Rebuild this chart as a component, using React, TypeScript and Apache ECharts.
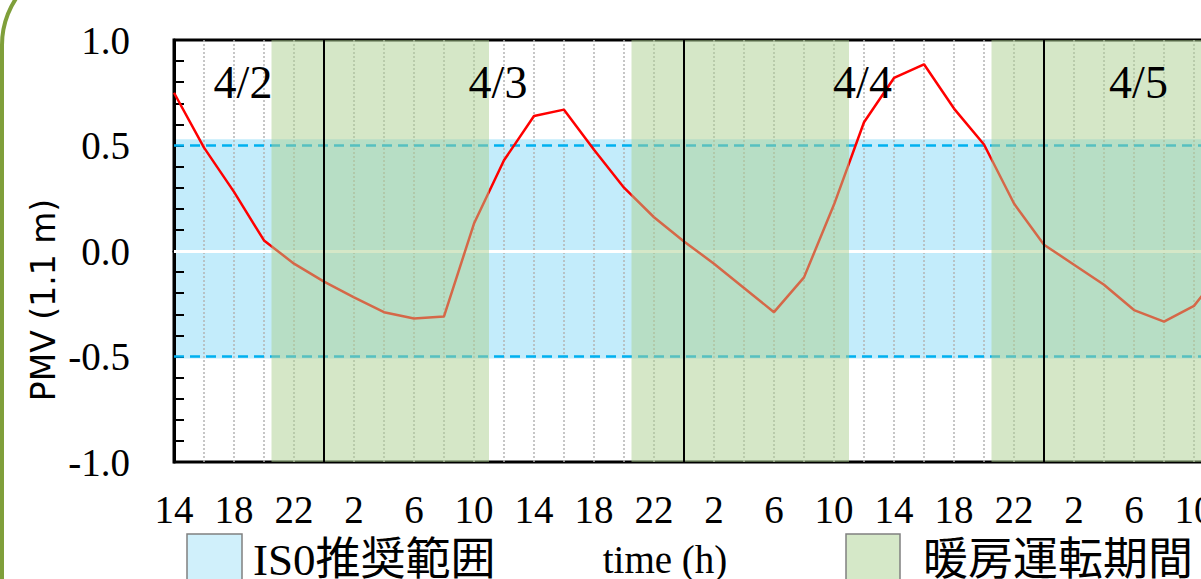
import { useEffect, useRef } from 'react';
import * as echarts from 'echarts';

// Clock hour at the left edge of the time axis (4/2 14:00)
const START_CLOCK = 14;

// Elapsed hours since 4/2 14:00, one reading every two hours
const elapsedHours = [
  0, 2, 4, 6, 8, 10, 12, 14, 16, 18, 20, 22, 24, 26, 28, 30, 32, 34,
  36, 38, 40, 42, 44, 46, 48, 50, 52, 54, 56, 58, 60, 62, 64, 66, 68, 70,
];

// PMV at 1.1 m height
const pmv = [
  0.75, 0.49, 0.28, 0.05, -0.06, -0.145, -0.22, -0.29, -0.32, -0.31, 0.13, 0.43,
  0.64, 0.67, 0.48, 0.3, 0.16, 0.045, -0.06, -0.175, -0.29, -0.125, 0.22, 0.61,
  0.82, 0.885, 0.675, 0.505, 0.225, 0.03, -0.065, -0.16, -0.28, -0.335, -0.26, -0.08,
];

// Heating operation periods [from, to] in elapsed hours
const heatingPeriods = [
  [6.5, 21],
  [30.5, 45],
  [54.5, 72],
];

// Day boundaries (midnight) in elapsed hours
const midnights = [10, 34, 58];

// Day captions and where they sit on the time axis
const dayLabels = ['4/2', '4/3', '4/4', '4/5'];
const dayLabelHours = [4.6, 21.6, 45.9, 64.3];
const dayLabelLevel = 0.8;

// ISO recommended comfort range (shaded band and its dashed limits)
const isoBand = [-0.51, 0.53];
const isoLimits = [-0.5, 0.5];

const SERIF = '"Liberation Serif", "Times New Roman", serif';
const SERIF_CJK = '"Liberation Serif", "Noto Sans CJK JP", serif';

export default function App() {
  const ref = useRef<HTMLDivElement>(null);

  useEffect(() => {
    if (!ref.current) return;
    const chart = echarts.init(ref.current, null, { renderer: 'svg' });
    const points = elapsedHours.map((h, i) => [h, pmv[i]]);
    const dotted = { color: '#b4b4b4', type: [2, 2] as number[], width: 1.5 };

    const staticGraphics: any[] = [
      {
        id: 'frame',
        type: 'rect',
        z: 10,
        silent: true,
        shape: { x: 2, y: -39, width: 1400, height: 700, r: 84 },
        style: { fill: 'none', stroke: '#7f9f3a', lineWidth: 4 },
      },
      {
        id: 'yname',
        type: 'text',
        z: 10,
        x: 43,
        y: 300,
        rotation: Math.PI / 2,
        style: {
          text: 'PMV (1.1 m)',
          font: '33px "DejaVu Sans", sans-serif',
          fill: '#000',
          textAlign: 'center',
          textVerticalAlign: 'middle',
        },
      },
      {
        id: 'isoBox',
        type: 'rect',
        z: 10,
        shape: { x: 187, y: 534, width: 55, height: 60 },
        style: { fill: '#d0f0fb', stroke: '#808080', lineWidth: 1.5 },
      },
      {
        id: 'isoText',
        type: 'text',
        z: 10,
        x: 253,
        y: 560,
        style: {
          text: 'IS0推奨範囲',
          font: `45px ${SERIF_CJK}`,
          fill: '#000',
          textAlign: 'left',
          textVerticalAlign: 'middle',
        },
      },
      {
        id: 'xname',
        type: 'text',
        z: 10,
        x: 665,
        y: 559,
        style: {
          text: 'time (h)',
          font: `39px ${SERIF}`,
          fill: '#000',
          textAlign: 'center',
          textVerticalAlign: 'middle',
        },
      },
      {
        id: 'heatBox',
        type: 'rect',
        z: 10,
        shape: { x: 846, y: 534, width: 54, height: 60 },
        style: { fill: '#d5e8c8', stroke: '#808080', lineWidth: 1.5 },
      },
      {
        id: 'heatText',
        type: 'text',
        z: 10,
        x: 923,
        y: 560,
        style: {
          text: '暖房運転期間',
          font: `45px ${SERIF_CJK}`,
          fill: '#000',
          textAlign: 'left',
          textVerticalAlign: 'middle',
        },
      },
    ];

    chart.setOption({
      animation: false,
      grid: {
        left: 174,
        top: 40,
        width: 1080,
        height: 422,
        show: true,
        borderColor: '#000',
        borderWidth: 3,
        backgroundColor: 'transparent',
        z: 0,
      },
      xAxis: {
        type: 'value',
        min: 0,
        max: 72,
        interval: 4,
        z: 2,
        axisLine: { show: true, lineStyle: { color: '#000', width: 3 } },
        axisTick: { show: false },
        axisLabel: {
          formatter: (v: number) => String((v + START_CLOCK) % 24),
          fontFamily: SERIF,
          fontSize: 39,
          color: '#000',
          margin: 28,
        },
        splitLine: { show: true, lineStyle: dotted },
        minorTick: { show: false, splitNumber: 2 },
        minorSplitLine: { show: true, lineStyle: dotted },
      },
      yAxis: {
        type: 'value',
        min: -1,
        max: 1,
        interval: 0.5,
        z: 2,
        axisLine: { show: true, lineStyle: { color: '#000', width: 3 } },
        axisTick: { show: true, inside: true, length: 10, lineStyle: { color: '#000', width: 2 } },
        minorTick: { show: true, splitNumber: 5, length: 10, lineStyle: { color: '#000', width: 2 } },
        splitLine: { show: false },
        axisLabel: {
          formatter: (v: number) => v.toFixed(1),
          fontFamily: SERIF,
          fontSize: 39,
          color: '#000',
          margin: 44,
        },
      },
      series: [
        {
          // ISO recommended range band
          type: 'line',
          data: points,
          symbol: 'none',
          silent: true,
          z: 1,
          lineStyle: { opacity: 0 },
          markArea: {
            silent: true,
            z: 1,
            itemStyle: { color: '#c3ecfb' },
            data: [[{ yAxis: isoBand[0] }, { yAxis: isoBand[1] }]],
          },
        },
        {
          // zero line and ISO limits
          type: 'line',
          data: points,
          symbol: 'none',
          silent: true,
          z: 3,
          lineStyle: { opacity: 0 },
          markLine: {
            silent: true,
            z: 3,
            symbol: ['none', 'none'],
            label: { show: false },
            data: [
              { yAxis: 0, lineStyle: { color: '#ffffff', width: 3, type: 'solid' } },
              ...isoLimits.map((v) => ({
                yAxis: v,
                lineStyle: { color: '#00b0f0', width: 2.5, type: [10, 6] },
              })),
            ],
          },
        },
        {
          name: 'PMV',
          type: 'line',
          data: points,
          symbol: 'none',
          z: 4,
          lineStyle: { color: '#ff0000', width: 2.5 },
        },
        {
          // heating operation periods (translucent overlay)
          type: 'line',
          data: points,
          symbol: 'none',
          silent: true,
          z: 5,
          lineStyle: { opacity: 0 },
          markArea: {
            silent: true,
            z: 5,
            itemStyle: { color: 'rgba(171,207,143,0.5)' },
            data: heatingPeriods.map(([a, b]) => [{ xAxis: a }, { xAxis: b }]),
          },
        },
        {
          // day boundaries
          type: 'line',
          data: points,
          symbol: 'none',
          silent: true,
          z: 6,
          lineStyle: { opacity: 0 },
          markLine: {
            silent: true,
            z: 6,
            symbol: ['none', 'none'],
            label: { show: false },
            lineStyle: { color: '#000', width: 2, type: 'solid' },
            data: midnights.map((h) => ({ xAxis: h })),
          },
        },
      ],
      graphic: staticGraphics,
    });

    // Day captions, placed through the axes' own scales
    const captions = dayLabels.map((text, i) => {
      const [px, py] = chart.convertToPixel({ gridIndex: 0 }, [dayLabelHours[i], dayLabelLevel]);
      return {
        id: `day-${i}`,
        type: 'text',
        z: 10,
        x: px,
        y: py,
        style: {
          text,
          font: `46px ${SERIF}`,
          fill: '#000',
          textAlign: 'center',
          textVerticalAlign: 'middle',
        },
      };
    });
    chart.setOption({ graphic: [...staticGraphics, ...captions] });

    return () => chart.dispose();
  }, []);

  return (
    <div
      style={{
        position: 'fixed',
        left: 0,
        top: 0,
        width: 1201,
        height: 579,
        overflow: 'hidden',
        background: '#fff',
      }}
    >
      <div ref={ref} style={{ width: 1300, height: 579 }} />
    </div>
  );
}
